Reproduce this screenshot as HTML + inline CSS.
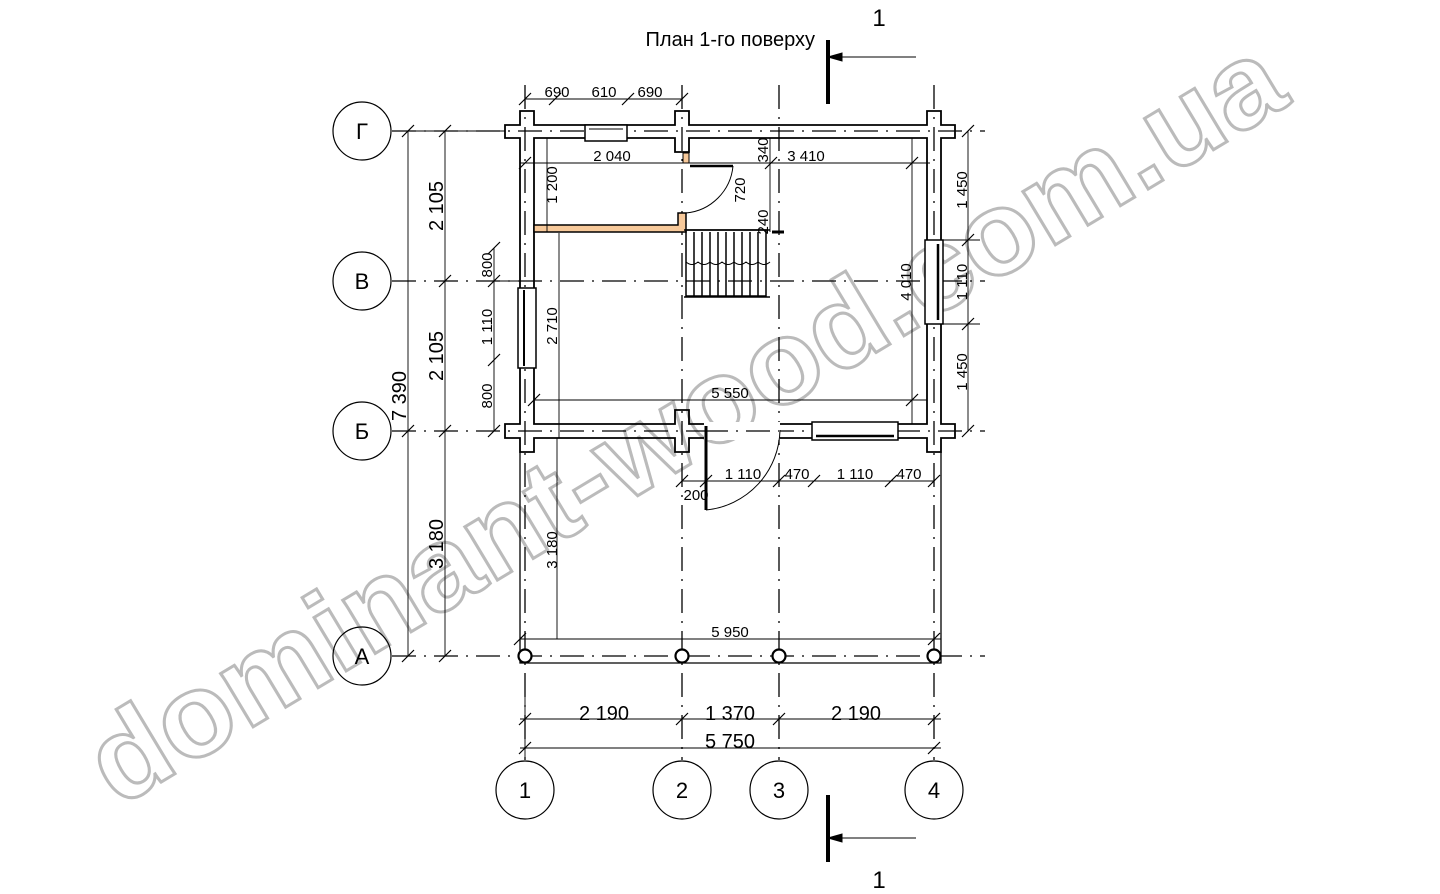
<!DOCTYPE html>
<html><head><meta charset="utf-8"><style>
html,body{margin:0;padding:0;background:#fff;width:1440px;height:894px;overflow:hidden}
svg{display:block}
text{font-family:"Liberation Sans",sans-serif;fill:#000}
</style></head><body>
<svg width="1440" height="894" viewBox="0 0 1440 894" xmlns="http://www.w3.org/2000/svg">
<!-- watermark -->
<text transform="translate(118,808) rotate(-31)" font-size="118" font-weight="bold" style="fill:#fff;stroke:#bbb;stroke-width:3" textLength="1370" lengthAdjust="spacingAndGlyphs">dominant-wood.com.ua</text>
<g stroke="#000" fill="none">
<g stroke-width="1.3" stroke-dasharray="24,8,2,8">
<line x1="525" y1="85" x2="525" y2="760"/>
<line x1="682" y1="85" x2="682" y2="760"/>
<line x1="779" y1="85" x2="779" y2="760"/>
<line x1="934" y1="85" x2="934" y2="760"/>
<line x1="392" y1="131" x2="985" y2="131"/>
<line x1="392" y1="281" x2="985" y2="281"/>
<line x1="392" y1="431" x2="985" y2="431"/>
<line x1="392" y1="656" x2="985" y2="656"/>
</g>
<g stroke-width="1.2">
<circle cx="362" cy="131" r="29"/><circle cx="362" cy="281" r="29"/>
<circle cx="362" cy="431" r="29"/><circle cx="362" cy="656" r="29"/>
<circle cx="525" cy="790" r="29"/><circle cx="682" cy="790" r="29"/>
<circle cx="779" cy="790" r="29"/><circle cx="934" cy="790" r="29"/>
</g>
<g stroke-width="1.8">
<path d="M505 125 H520 V111 H534 V125 H675 V111 H689 V125 H927 V111 H941 V125 H955 V138 H941 V424 H955 V438 H941 V452 H927 V438 H689 V452 H675 V438 H534 V452 H520 V438 H505 V424 H520 V138 H505 Z"/>
<path d="M534 138 H675 V152 H689 V138 H927 V424 H689 V410 H675 V424 H534 Z"/>
</g>
<rect x="585" y="125" width="42" height="16" fill="#fff" stroke-width="1.5"/>
<line x1="589" y1="129" x2="623" y2="129"/>
<rect x="518" y="288" width="18" height="80" fill="#fff" stroke-width="1.5"/>
<line x1="524" y1="290" x2="524" y2="366" stroke-width="2"/>
<rect x="925" y="240" width="18" height="84" fill="#fff" stroke-width="1.5"/>
<line x1="938" y1="244" x2="938" y2="320" stroke-width="2.5"/>
<rect x="812" y="422" width="86" height="18" fill="#fff" stroke-width="1.5"/>
<line x1="816" y1="436" x2="894" y2="436" stroke-width="2.5"/>
<rect x="704" y="422" width="76" height="18" fill="#fff" stroke="none"/>
<line x1="704" y1="431" x2="779" y2="431" stroke-width="1.3" stroke-dasharray="24,8,2,8"/>
<line x1="706" y1="426" x2="706" y2="510" stroke-width="3"/>
<path d="M706 510 A82 82 0 0 0 780 430" stroke-width="1"/>
<rect x="683" y="153" width="6" height="10" fill="#f7c99a" stroke-width="1"/>
<line x1="690" y1="166" x2="733" y2="166" stroke-width="2.5"/>
<path d="M733 166 A52 52 0 0 1 686 213" stroke-width="1"/>
<path d="M534 225 H678 V213 H686 V232 H534 Z" fill="#f7c99a" stroke-width="1.5"/>
<rect x="686" y="230" width="80" height="66" stroke-width="1.5"/>
<g stroke-width="1.5">
<line x1="694" y1="232" x2="694" y2="296"/><line x1="702" y1="232" x2="702" y2="296"/>
<line x1="710" y1="232" x2="710" y2="296"/><line x1="718" y1="232" x2="718" y2="296"/>
<line x1="726" y1="232" x2="726" y2="296"/><line x1="734" y1="232" x2="734" y2="296"/>
<line x1="742" y1="232" x2="742" y2="296"/><line x1="750" y1="232" x2="750" y2="296"/>
<line x1="758" y1="232" x2="758" y2="296"/>
<line x1="684" y1="297" x2="770" y2="297"/><line x1="684" y1="230" x2="770" y2="230"/>
</g>
<path d="M686 262 q6 5 12 0 q6 5 12 0 q6 5 12 0 q6 5 12 0 q6 5 12 0 q6 5 12 0 q6 5 12 0" stroke-width="1"/>
<line x1="772" y1="232" x2="784" y2="232" stroke-width="3"/>
<g stroke-width="1.3">
<path d="M520 452 V663 H941 V452"/>
<line x1="520" y1="639" x2="941" y2="639" stroke-width="1"/>
</g>
<g stroke-width="2.2" fill="#fff">
<circle cx="525" cy="656" r="6.5"/><circle cx="682" cy="656" r="6.5"/>
<circle cx="779" cy="656" r="6.5"/><circle cx="934" cy="656" r="6.5"/>
</g>
<g stroke-width="0.9">
<line x1="408" y1="131" x2="408" y2="656"/>
<line x1="445" y1="131" x2="445" y2="656"/>
<line x1="494" y1="248" x2="494" y2="431"/>
<line x1="559" y1="233" x2="559" y2="438"/>
<line x1="547" y1="138" x2="547" y2="232"/>
<line x1="557" y1="438" x2="557" y2="639"/>
<line x1="968" y1="131" x2="968" y2="431"/>
<line x1="912" y1="138" x2="912" y2="424"/>
<line x1="770" y1="138" x2="770" y2="232"/>
<line x1="520" y1="163" x2="930" y2="163"/>
<line x1="525" y1="99" x2="682" y2="99"/>
<line x1="534" y1="400" x2="927" y2="400"/>
<line x1="682" y1="481" x2="934" y2="481"/>
<line x1="520" y1="719" x2="941" y2="719"/>
<line x1="520" y1="748" x2="941" y2="748"/>
<line x1="525" y1="690" x2="525" y2="760"/>
<line x1="392" y1="131" x2="505" y2="131"/>
<line x1="480" y1="281" x2="520" y2="281"/>
<line x1="941" y1="240" x2="980" y2="240"/>
<line x1="941" y1="324" x2="980" y2="324"/>
</g>
<g stroke-width="1.2">
<path d="M402 137l12-12M402 437l12-12M402 662l12-12M439 137l12-12M439 287l12-12M439 437l12-12M439 662l12-12
M488 254l12-12M488 287l12-12M488 366l12-12M488 437l12-12
M962 137l12-12M962 246l12-12M962 330l12-12M962 437l12-12
M519 105l12-12M549 105l12-12M622 105l12-12M676 105l12-12
M519 169l12-12M765 169l12-12M906 169l12-12
M519 725l12-12M676 725l12-12M773 725l12-12M928 725l12-12
M519 754l12-12M928 754l12-12
M676 487l12-12M700 487l12-12M773 487l12-12M808 487l12-12M885 487l12-12M928 487l12-12
M528 406l12-12M906 406l12-12M514 645l12-12M928 645l12-12"/>
</g>
<line x1="828" y1="40" x2="828" y2="104" stroke-width="4"/>
<line x1="828" y1="57" x2="916" y2="57" stroke-width="1"/>
<path d="M828 57l14-4v8z" fill="#000"/>
<line x1="828" y1="795" x2="828" y2="862" stroke-width="4"/>
<line x1="828" y1="838" x2="916" y2="838" stroke-width="1"/>
<path d="M828 838l14-4v8z" fill="#000"/>
</g>
<g font-size="22" text-anchor="middle">
<text x="362" y="139">Г</text><text x="362" y="289">В</text>
<text x="362" y="439">Б</text><text x="362" y="664">А</text>
<text x="525" y="798">1</text><text x="682" y="798">2</text>
<text x="779" y="798">3</text><text x="934" y="798">4</text>
<text x="879" y="26" font-size="24">1</text><text x="879" y="888" font-size="24">1</text>
</g>
<g font-size="20" text-anchor="middle">
<text x="604" y="720">2 190</text>
<text x="730" y="720">1 370</text>
<text x="856" y="720">2 190</text>
<text x="730" y="748">5 750</text>
</g>
<text x="815" y="46" font-size="20" text-anchor="end">План 1-го поверху</text>
<g font-size="20" text-anchor="middle">
<text transform="translate(443,206) rotate(-90)">2 105</text>
<text transform="translate(443,356) rotate(-90)">2 105</text>
<text transform="translate(443,544) rotate(-90)">3 180</text>
<text transform="translate(406,396) rotate(-90)">7 390</text>
</g>
<g font-size="15" text-anchor="middle">
<text x="557" y="97">690</text><text x="604" y="97">610</text><text x="650" y="97">690</text>
<text x="612" y="161">2 040</text><text x="806" y="161">3 410</text>
<text x="730" y="398">5 550</text><text x="730" y="637">5 950</text>
<text x="743" y="479">1 110</text><text x="797" y="479">470</text>
<text x="855" y="479">1 110</text><text x="909" y="479">470</text>
<text x="696" y="500">200</text>
<text transform="translate(492,265) rotate(-90)">800</text>
<text transform="translate(492,327) rotate(-90)">1 110</text>
<text transform="translate(492,396) rotate(-90)">800</text>
<text transform="translate(557,326) rotate(-90)">2 710</text>
<text transform="translate(557,185) rotate(-90)">1 200</text>
<text transform="translate(557,550) rotate(-90)">3 180</text>
<text transform="translate(768,150) rotate(-90)">340</text>
<text transform="translate(745,190) rotate(-90)">720</text>
<text transform="translate(768,222) rotate(-90)">240</text>
<text transform="translate(911,282) rotate(-90)">4 010</text>
<text transform="translate(967,190) rotate(-90)">1 450</text>
<text transform="translate(967,282) rotate(-90)">1 110</text>
<text transform="translate(967,372) rotate(-90)">1 450</text>
</g>
</svg>
</body></html>
